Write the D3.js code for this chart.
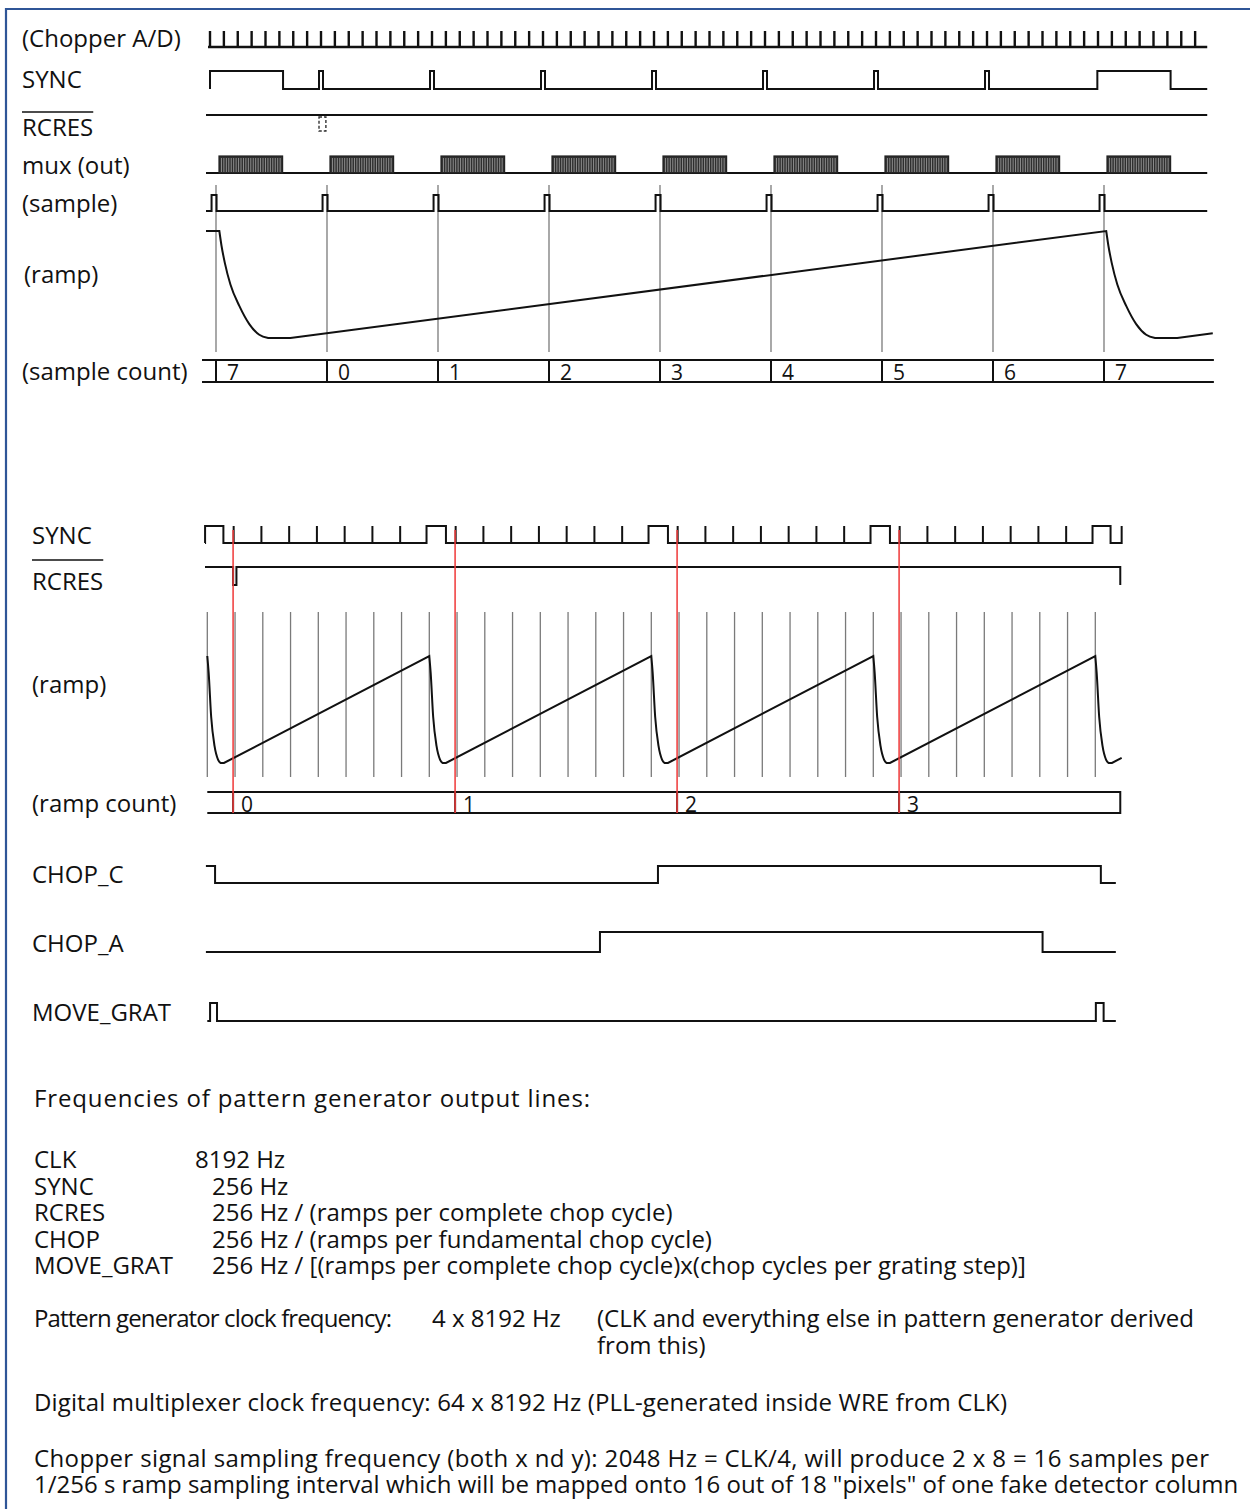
<!DOCTYPE html>
<html>
<head>
<meta charset="utf-8">
<script src="https://cdn.jsdelivr.net/npm/d3@7"></script>
<style>
  body { margin:0; background:#fff; }
  svg { display:block; font-family:"Open Sans", sans-serif; }
  .sig { fill:none; stroke:#111; stroke-width:2; stroke-linejoin:miter; }
  .tick { fill:none; stroke:#111; stroke-width:2.4; }
  .grid { stroke:#7a7a7a; stroke-width:1.3; }
  .lbl { font-size:24px; fill:#111; }
  .num { font-size:21px; fill:#111; }
</style>
</head>
<body>
<script>
// time unit = one sample period; top panel = one ramp, bottom panel = four ramps

// ---- top panel data ----
const topSamples = [0, 1, 2, 3, 4, 5, 6, 7, 8];
const sampleCountLabels = ["7", "0", "1", "2", "3", "4", "5", "6", "7"];
const chopperTickCount = 72;
const chopperTicksPerSample = 8;
const chopperTickPhase = -0.054;
const syncTopHigh = [[-0.054, 0.604], [0.928, 0.964], [1.928, 1.964], [2.928, 2.964], [3.928, 3.964],
                     [4.928, 4.964], [5.928, 5.964], [6.928, 6.964], [7.94, 8.6]];
const rcresTopGap = [0.928, 0.99];
const muxBursts = [[0.027, 0.6], [1.027, 1.6], [2.027, 2.6], [3.027, 3.6], [4.027, 4.6],
                   [5.027, 5.6], [6.027, 6.6], [7.027, 7.6], [8.027, 8.6]];
const sampleTopPulses = [[-0.04, 0.005], [0.96, 1.005], [1.96, 2.005], [2.96, 3.005], [3.96, 4.005],
                         [4.96, 5.005], [5.96, 6.005], [6.96, 7.005], [7.96, 8.005]];
// ramp: peak times, decay shape [dt, level], flat-bottom end
const rampTopStart = -0.09;
const rampTopPeaks = [0.03, 8.02];
const rampTopDecay = [[0, 1], [0.02, 0.86], [0.05, 0.7], [0.1, 0.5], [0.18, 0.3], [0.27, 0.13], [0.36, 0.03], [0.44, 0]];
const rampTopFlatEnd = 0.64;
const rampTopEnd = [8.98, 0.045];

// ---- bottom panel data ----
const gridBot = d3.range(0, 33);
const rampStarts = [0.93, 8.93, 16.93, 24.93];
const rampCountLabels = ["0", "1", "2", "3"];
const syncBotHigh = [[-0.08, 0.58], [0.95, 0.95], [1.95, 1.95], [2.95, 2.95], [3.95, 3.95], [4.95, 4.95],
                     [5.95, 5.95], [6.95, 6.95], [7.9, 8.6], [8.95, 8.95], [9.95, 9.95], [10.95, 10.95],
                     [11.95, 11.95], [12.95, 12.95], [13.95, 13.95], [14.95, 14.95], [15.9, 16.6],
                     [16.95, 16.95], [17.95, 17.95], [18.95, 18.95], [19.95, 19.95], [20.95, 20.95],
                     [21.95, 21.95], [22.95, 22.95], [23.9, 24.6], [24.95, 24.95], [25.95, 25.95],
                     [26.95, 26.95], [27.95, 27.95], [28.95, 28.95], [29.95, 29.95], [30.95, 30.95],
                     [31.9, 32.55], [32.95, 32.95]];
const rcresBotLow = [[0.93, 1.05], [32.9, 33.5]];
const rampBotPeaks = [0, 8, 16, 24, 32];
const rampBotDecay = [[0, 1], [0.05, 0.84], [0.14, 0.43], [0.26, 0.16], [0.39, 0.03], [0.48, 0]];
const rampBotFlatEnd = 0.6;
const rampBotEnd = [32.95, 0.047];
const chopCHigh = [[-1, 0.28], [16.24, 32.2]];
const chopAHigh = [[14.15, 30.1]];
const moveGratHigh = [[0.1, 0.35], [32.02, 32.3]];

// ---- text ----
const topLabels = ["(Chopper A/D)", "SYNC", "RCRES", "mux (out)", "(sample)", "(ramp)", "(sample count)"];
const botLabels = ["SYNC", "RCRES", "(ramp)", "(ramp count)", "CHOP_C", "CHOP_A", "MOVE_GRAT"];
const freqNames = ["CLK", "SYNC", "RCRES", "CHOP", "MOVE_GRAT"];
const freqValues = ["8192 Hz", "256 Hz", "256 Hz / (ramps per complete chop cycle)",
                    "256 Hz / (ramps per fundamental chop cycle)",
                    "256 Hz / [(ramps per complete chop cycle)x(chop cycles per grating step)]"];

const W = 1250, H = 1509;
const svg = d3.select("body").append("svg").attr("width", W).attr("height", H);

svg.append("path").attr("d", "M6,1530V9H1270")
  .attr("fill", "none").attr("stroke", "#2f5597").attr("stroke-width", 2.2);

const xT = d3.scaleLinear().domain([0, 8]).range([216, 1104]);
const xB = d3.scaleLinear().domain([0, 32]).range([207.3, 1095.3]);

// step waveform: lo/hi pixel levels, intervals where the line is at "hi"
function stepPath(x, lo, hi, t0, t1, highs) {
  const p = d3.path();
  const startHigh = highs.length && highs[0][0] < t0;
  p.moveTo(x(t0), startHigh ? hi : lo);
  for (const [a, b] of highs) {
    if (a >= t0) { p.lineTo(x(a), lo); p.lineTo(x(a), hi); }
    if (b >= t1) { p.lineTo(x(t1), hi); return p.toString(); }
    p.lineTo(x(b), hi); p.lineTo(x(b), lo);
  }
  p.lineTo(x(t1), lo);
  return p.toString();
}

// ramp: decays (curved) joined by flat bottoms and straight rises
function rampPath(x, y, peaks, decay, flatEnd, end) {
  const curve = d3.line().x(d => x(d[0])).y(d => y(d[1])).curve(d3.curveMonotoneX);
  let s = "";
  peaks.forEach((p, i) => {
    const seg = curve(decay.map(d => [p + d[0], d[1]]));
    s += i === 0 ? seg : "L" + seg.slice(1);
    s += `L${x(p + flatEnd)},${y(0)}`;
    if (i < peaks.length - 1) s += `L${x(peaks[i + 1])},${y(1)}`;
    else s += `L${x(end[0])},${y(end[1])}`;
  });
  return s;
}

function label(txt, xx, yy, over) {
  const t = svg.append("text").attr("class", "lbl").attr("x", xx).attr("y", yy).text(txt);
  if (over) {
    const w = t.node().getComputedTextLength();
    svg.append("line").attr("x1", xx).attr("x2", xx + w).attr("y1", over).attr("y2", over)
      .attr("stroke", "#111").attr("stroke-width", 1.6);
  }
}

// ================= TOP PANEL =================
const topY = [47, 88, 136, 174, 212, 283, 380];
topLabels.forEach((t, i) => label(t, i === 5 ? 24 : 22, topY[i], t === "RCRES" ? 112 : null));

// sample grid lines
svg.append("g").selectAll("line").data(topSamples).join("line").attr("class", "grid")
  .attr("x1", d => xT(d)).attr("x2", d => xT(d)).attr("y1", 185).attr("y2", 352);

// chopper A/D ticks
const chopTicks = d3.range(chopperTickCount).map(k => chopperTickPhase + k / chopperTicksPerSample);
svg.append("path").attr("class", "tick")
  .attr("d", stepPath(xT, 47, 31, -0.072, 8.93, chopTicks.map(t => [t, t])));

// SYNC
svg.append("path").attr("class", "sig").attr("d", stepPath(xT, 89, 71, -0.054, 8.93, syncTopHigh));

// RCRES (top) line plus dashed pulse outline
svg.append("path").attr("class", "sig").attr("d", stepPath(xT, 115, 115, -0.09, 8.93, []));
svg.append("rect").attr("x", xT(rcresTopGap[0])).attr("y", 117)
  .attr("width", xT(rcresTopGap[1]) - xT(rcresTopGap[0])).attr("height", 14)
  .attr("fill", "none").attr("stroke", "#333").attr("stroke-width", 1.4).attr("stroke-dasharray", "3,2");

// mux (out)
svg.append("path").attr("class", "sig").attr("d", stepPath(xT, 173, 173, -0.09, 8.93, []));
const mux = svg.append("g");
muxBursts.forEach(([a, b]) => {
  mux.append("rect").attr("x", xT(a)).attr("y", 156).attr("width", xT(b) - xT(a)).attr("height", 17)
    .attr("fill", "#2e2e2e").attr("stroke", "#222").attr("stroke-width", 1.2);
  const n = 26;
  mux.selectAll(null).data(d3.range(1, n)).join("line")
    .attr("x1", k => xT(a) + k * (xT(b) - xT(a)) / n).attr("x2", k => xT(a) + k * (xT(b) - xT(a)) / n)
    .attr("y1", 158).attr("y2", 172).attr("stroke", "#b8b8b8").attr("stroke-width", 0.7);
});

// (sample)
svg.append("path").attr("class", "sig").attr("d", stepPath(xT, 211, 195, -0.09, 8.93, sampleTopPulses));

// (ramp)
const yRT = d3.scaleLinear().domain([0, 1]).range([338, 231]);
svg.append("path").attr("class", "sig")
  .attr("d", `M${xT(rampTopStart)},${yRT(1)}` + "L" + rampPath(xT, yRT, rampTopPeaks, rampTopDecay, rampTopFlatEnd, rampTopEnd).slice(1));

// (sample count)
const cnt = svg.append("g");
cnt.append("line").attr("x1", xT(-0.126)).attr("x2", xT(8.99)).attr("y1", 360).attr("y2", 360).attr("class", "sig");
cnt.append("line").attr("x1", xT(-0.126)).attr("x2", xT(8.99)).attr("y1", 382).attr("y2", 382).attr("class", "sig");
cnt.selectAll("line.sep").data(topSamples).join("line").attr("class", "sig sep")
  .attr("x1", d => xT(d)).attr("x2", d => xT(d)).attr("y1", 360).attr("y2", 382);
cnt.selectAll("text").data(topSamples).join("text").attr("class", "num")
  .attr("x", d => xT(d) + 11).attr("y", 380).text((d, i) => sampleCountLabels[i]);

// ================= BOTTOM PANEL =================
const botY = [544, 590, 693, 812, 883, 952, 1021];
botLabels.forEach((t, i) => label(t, 32, botY[i], t === "RCRES" ? 560 : null));

svg.append("g").selectAll("line").data(gridBot).join("line").attr("class", "grid")
  .attr("x1", d => xB(d)).attr("x2", d => xB(d)).attr("y1", 612).attr("y2", 777);

svg.append("path").attr("class", "sig").attr("d", stepPath(xB, 543, 526, -0.083, 32.95, syncBotHigh));
svg.append("path").attr("class", "sig").attr("d", stepPath(xB, 567, 585, -0.083, 32.9, rcresBotLow));

const yRB = d3.scaleLinear().domain([0, 1]).range([763, 656]);
svg.append("path").attr("class", "sig")
  .attr("d", rampPath(xB, yRB, rampBotPeaks, rampBotDecay, rampBotFlatEnd, rampBotEnd));

// (ramp count)
const rc = svg.append("g");
rc.append("path").attr("class", "sig")
  .attr("d", `M${xB(0)},792H${xB(32.9)}V813H${xB(0)}`);
rc.selectAll("line").data(rampStarts).join("line").attr("class", "sig")
  .attr("x1", d => xB(d)).attr("x2", d => xB(d)).attr("y1", 792).attr("y2", 813);
rc.selectAll("text").data(rampStarts).join("text").attr("class", "num")
  .attr("x", d => xB(d) + 8).attr("y", 812).text((d, i) => rampCountLabels[i]);

svg.append("path").attr("class", "sig").attr("d", stepPath(xB, 883, 866, -0.05, 32.74, chopCHigh));
svg.append("path").attr("class", "sig").attr("d", stepPath(xB, 952, 932, -0.05, 32.74, chopAHigh));
svg.append("path").attr("class", "sig").attr("d", stepPath(xB, 1021, 1003, 0, 32.74, moveGratHigh));

// red ramp-start markers
svg.append("g").selectAll("line").data(rampStarts).join("line")
  .attr("x1", d => xB(d)).attr("x2", d => xB(d)).attr("y1", 530).attr("y2", 813)
  .attr("stroke", "#f03c3c").attr("stroke-width", 1.8).attr("opacity", 0.85);

// ================= TEXT BLOCK =================
const tb = svg.append("g").attr("class", "lbl").style("white-space", "pre");
function line(txt, xx, yy, len) {
  const t = tb.append("text").attr("x", xx).attr("y", yy).text(txt);
  if (len) t.attr("textLength", len).attr("lengthAdjust", "spacing");
  return t;
}
line("Frequencies of pattern generator output lines:", 34, 1107, 556);
freqNames.forEach((n, i) => {
  line(n, 34, 1168 + i * 26.5);
  line(freqValues[i], i === 0 ? 195 : 212, 1168 + i * 26.5);
});
line("Pattern generator clock frequency:", 34, 1327, 358);
line("4 x 8192 Hz", 432, 1327);
line("(CLK and everything else in pattern generator derived", 597, 1327);
line("from this)", 597, 1354);
line("Digital multiplexer clock frequency: 64 x 8192 Hz  (PLL-generated inside WRE from CLK)", 34, 1411, 973);
line("Chopper signal sampling frequency (both x nd y): 2048 Hz = CLK/4, will produce 2 x 8 = 16 samples per", 34, 1467, 1175);
line("1/256 s ramp sampling interval which will be mapped onto 16 out of 18 \"pixels\" of one fake detector column", 34, 1493);
</script>
</body>
</html>
